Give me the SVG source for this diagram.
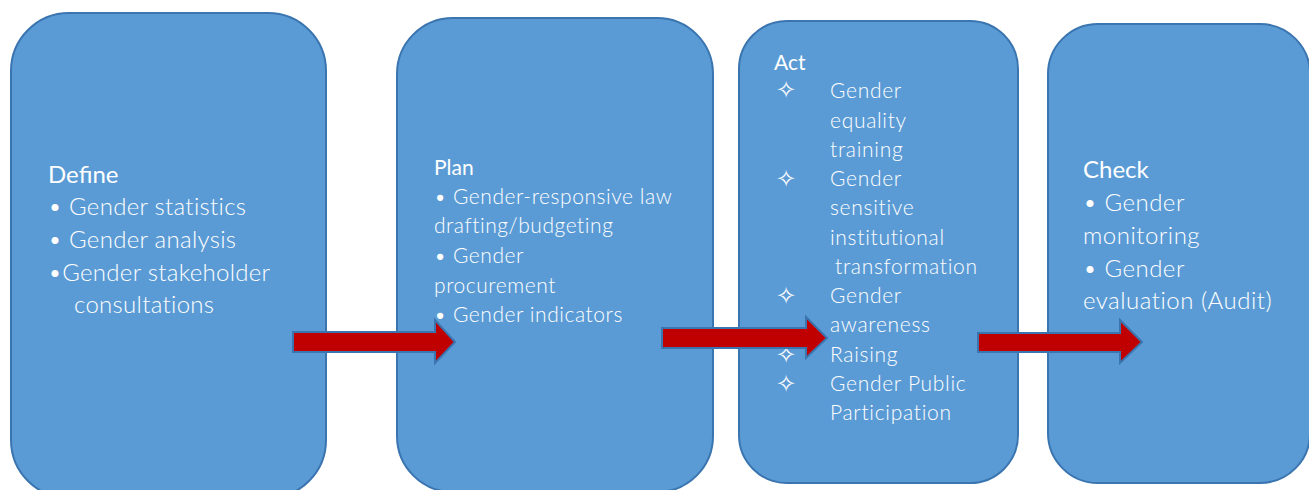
<svg xmlns="http://www.w3.org/2000/svg" width="1309" height="490" viewBox="0 0 1309 490">
<defs>
<style>
.box{fill:#5B9BD5;stroke:#3A75B0;stroke-width:2}
.t{font-family:Lato,"Open Sans","Liberation Sans",sans-serif;fill:#FFFFFF;font-weight:300}
.h{font-family:Lato,"Open Sans","Liberation Sans",sans-serif;fill:#FFFFFF;font-weight:400}
.star{font-family:"DejaVu Sans",sans-serif;fill:#FFFFFF;font-size:24px}
.arrow{fill:#C00000;stroke:#3A75B0;stroke-width:2;stroke-linejoin:miter}
</style>
</defs>
<rect width="1309" height="490" fill="#FFFFFF"/>
<g id="define">
<rect class="box" x="11" y="13" width="315" height="485" rx="58" ry="58"/>
<text class="h" x="48" y="183" font-size="24">Define</text>
<text class="t" font-size="24" letter-spacing="0.3"><tspan x="48" y="215">• Gender statistics</tspan><tspan x="48" y="248">• Gender analysis</tspan><tspan x="48" y="281">•Gender stakeholder</tspan><tspan x="74" y="313">consultations</tspan></text>
</g>
<g id="plan">
<rect class="box" x="397" y="18" width="316" height="474" rx="56" ry="56"/>
<text class="h" x="434" y="175" font-size="21">Plan</text>
<text class="t" font-size="21" letter-spacing="0.55"><tspan x="434" y="204">• Gender-responsive law</tspan><tspan x="434" y="233">drafting/budgeting</tspan><tspan x="434" y="263">• Gender</tspan><tspan x="434" y="293">procurement</tspan><tspan x="434" y="322">• Gender indicators</tspan></text>
</g>
<g id="act">
<rect class="box" x="739" y="21" width="279" height="462" rx="48" ry="48"/>
<text class="h" x="774" y="70" font-size="21">Act</text>
<text class="star" x="776" y="98">✧</text>
<text class="star" x="776" y="187">✧</text>
<text class="star" x="776" y="304">✧</text>
<text class="star" x="776" y="363">✧</text>
<text class="star" x="776" y="392">✧</text>
<text class="t" font-size="21" letter-spacing="0.7"><tspan x="830" y="98">Gender</tspan><tspan x="830" y="128">equality</tspan><tspan x="830" y="157">training</tspan><tspan x="830" y="186">Gender</tspan><tspan x="830" y="215">sensitive</tspan><tspan x="830" y="245">institutional</tspan><tspan x="835" y="274">transformation</tspan><tspan x="830" y="303">Gender</tspan><tspan x="830" y="332">awareness</tspan><tspan x="830" y="362">Raising</tspan><tspan x="830" y="391">Gender Public</tspan><tspan x="830" y="420">Participation</tspan></text>
</g>
<g id="check">
<rect class="box" x="1048" y="24" width="262" height="459" rx="50" ry="50"/>
<text class="h" x="1083" y="178" font-size="24">Check</text>
<text class="t" font-size="24" letter-spacing="0.5"><tspan x="1083" y="211">• Gender</tspan><tspan x="1083" y="244">monitoring</tspan><tspan x="1083" y="277">• Gender</tspan><tspan x="1083" y="309">evaluation (Audit)</tspan></text>
</g>
<g id="connectors">
<polygon class="arrow" points="293,332 435,332 435,320 455,342 435,363 435,352 293,352"/>
<polygon class="arrow" points="662,328 806,328 806,317 827,338 806,358 806,348 662,348"/>
<polygon class="arrow" points="978,333 1120,333 1120,320 1142,342 1120,363 1120,352 978,352"/>
</g>
</svg>
